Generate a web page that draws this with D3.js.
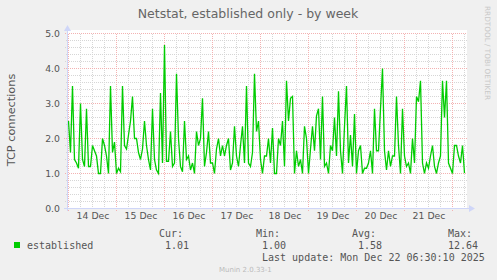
<!DOCTYPE html>
<html>
<head>
<meta charset="utf-8">
<script src="https://cdn.jsdelivr.net/npm/d3@7"></script>
<style>
  html, body { margin: 0; padding: 0; background: #f0f0f0; }
  svg { display: block; }
  text { fill: #555; }
  .mono { font-family: 'DejaVu Sans Mono', monospace; font-size: 10px; }
  .axis text { font-family: 'DejaVu Sans', sans-serif; font-size: 9.3px; fill: #555; }
  .axis path, .axis line { display: none; }
</style>
</head>
<body>
<svg id="chart" width="497" height="280"></svg>
<script>
// hourly samples starting 14 Dec 2025 00:00
const START = new Date(2025, 11, 14, 0, 0);
const established = [
  2.5, 1.6, 3.5, 1.4, 1.3, 1.15, 3.0, 1.4, 1.2, 2.85,
  1.2, 1.2, 1.8, 1.65, 1.5, 1.0, 1.0, 2.0, 1.8, 1.5,
  1.0, 3.5, 1.6, 1.9, 1.0, 1.15, 1.05, 3.5, 1.8, 1.7,
  2.1, 2.5, 3.2, 2.0, 2.0, 1.6, 1.4, 1.7, 2.5, 1.8,
  1.4, 1.1, 2.85, 1.4, 1.1, 1.0, 3.3, 1.3, 4.67, 1.35,
  1.35, 2.2, 1.2, 1.3, 3.85, 2.0, 1.2, 1.05, 2.5, 1.4,
  1.5, 1.1, 1.3, 1.0, 2.2, 1.8, 2.0, 3.15, 1.2, 1.6,
  2.2, 1.3, 1.3, 1.0, 1.7, 2.0, 1.5, 1.8, 1.5, 1.8,
  2.0, 1.1, 1.3, 2.35, 1.5, 1.2, 1.8, 2.35, 1.3, 3.5,
  1.3, 1.2, 1.6, 3.85, 2.2, 2.5, 1.4, 1.0, 1.5, 1.5,
  2.0, 1.3, 2.3, 1.0, 1.0, 2.0, 1.8, 2.5, 1.2, 3.65,
  2.5, 3.15, 3.2, 1.0, 1.65, 1.2, 1.4, 1.0, 2.35, 2.0,
  1.0, 1.7, 2.35, 1.65, 2.65, 2.85, 1.4, 3.2, 1.2, 1.3,
  1.0, 1.8, 1.65, 2.6, 1.5, 3.35, 1.65, 1.0, 2.35, 3.5,
  1.3, 2.1, 1.2, 2.7, 1.0, 1.65, 1.8, 1.0, 1.15, 1.15,
  1.3, 1.65, 1.0, 2.85, 1.65, 1.65, 2.85, 4.0, 1.65, 1.1,
  1.65, 1.2, 1.5, 1.5, 3.2, 1.8, 1.0, 2.85, 1.5, 1.2,
  1.3, 1.0, 2.0, 1.3, 3.2, 3.05, 3.65, 1.3, 1.0, 1.3,
  1.15, 1.5, 1.8, 1.2, 1.0, 1.3, 1.5, 3.65, 2.6, 3.65,
  1.3, 1.15, 1.0, 1.8, 1.8, 1.5, 1.3, 1.8, 1.01
];
const yTicks = [0, 1, 2, 3, 4, 5];
const legendHeads = ['Cur:', 'Min:', 'Avg:', 'Max:'];
const legendValues = ['1.01', '1.00', '1.58', '12.64'];

const data = established.map((v, i) => ({ t: d3.timeHour.offset(START, i), v }));

const svg = d3.select('#chart');

const x = d3.scaleTime()
  .domain([new Date(2025, 11, 13, 23, 30), new Date(2025, 11, 22, 7, 30)])
  .range([67.5, 467.5]);
const y = d3.scaleLinear().domain([0, 5]).range([208.5, 33.5]);
// pixel row / column a grid line falls on
const row = v => Math.floor(v);

// dotted patterns (checkerboard gives 1-on 1-off dots both ways)
const defs = svg.append('defs');
[['dotGrey', '#d6d6d6'], ['dotRed', '#f3b2b2']].forEach(([id, c]) => {
  const p = defs.append('pattern').attr('id', id)
    .attr('patternUnits', 'userSpaceOnUse').attr('width', 2).attr('height', 2);
  p.append('rect').attr('x', 0).attr('y', 0).attr('width', 1).attr('height', 1).attr('fill', c);
  p.append('rect').attr('x', 1).attr('y', 1).attr('width', 1).attr('height', 1).attr('fill', c);
});

// canvas
svg.append('rect').attr('x', 67).attr('y', 30).attr('width', 400).attr('height', 178).attr('fill', '#fff');

const grid = svg.append('g').attr('shape-rendering', 'crispEdges');

// minor grid (every 0.2 / every 6 hours)
const minorY = d3.range(1, 25).filter(i => i % 5 !== 0).map(i => i / 5);
grid.selectAll('.hmin').data(minorY)
  .join('rect')
  .attr('x', 65).attr('width', 402)
  .attr('y', d => row(y(d))).attr('height', 1)
  .attr('fill', 'url(#dotGrey)');
grid.selectAll('.vmin').data(d3.timeHour.every(6).range(x.domain()[0], x.domain()[1]).filter(d => d.getHours() !== 0))
  .join('rect')
  .attr('x', d => row(x(d))).attr('width', 1)
  .attr('y', 33).attr('height', 177)
  .attr('fill', 'url(#dotGrey)');

// major grid
grid.selectAll('.hmaj').data(yTicks.slice(1))
  .join('rect')
  .attr('x', 64).attr('width', 403)
  .attr('y', d => row(y(d))).attr('height', 1)
  .attr('fill', 'url(#dotRed)');
const days = d3.timeDay.range(x.domain()[0], x.domain()[1]);
grid.selectAll('.vmaj').data(days)
  .join('rect')
  .attr('x', d => row(x(d))).attr('width', 1)
  .attr('y', 33).attr('height', 179)
  .attr('fill', 'url(#dotRed)');

// series
const line = d3.line().x(d => x(d.t)).y(d => y(d.v));
svg.append('path').datum(data)
  .attr('d', line)
  .attr('fill', 'none')
  .attr('stroke', '#00cc00')
  .attr('stroke-width', 1.3)
  .attr('stroke-linejoin', 'miter');

// axes lines + arrows
const ax = svg.append('g').attr('shape-rendering', 'crispEdges');
ax.append('line').attr('x1', 67.5).attr('x2', 67.5).attr('y1', 30).attr('y2', 211).attr('stroke', '#cfd6f8');
ax.append('line').attr('x1', 64).attr('x2', 470).attr('y1', 208.5).attr('y2', 208.5).attr('stroke', '#cfd6f8');
svg.append('path').attr('d', 'M64,31 L71,31 L67.5,25 Z').attr('fill', '#cfd6f8');
svg.append('path').attr('d', 'M469,205 L469,212 L475,208.5 Z').attr('fill', '#cfd6f8');

// y tick labels
svg.append('g').attr('class', 'axis')
  .attr('transform', 'translate(67,0)')
  .call(d3.axisLeft(y).tickValues(yTicks).tickFormat(d3.format('.1f')).tickSize(0).tickPadding(7));

// x tick labels at noon
svg.append('g').attr('class', 'axis')
  .attr('transform', 'translate(0,211)')
  .call(d3.axisBottom(x)
    .tickValues(days.map(d => d3.timeHour.offset(d, 12)).filter(d => d < x.domain()[1]))
    .tickFormat(d3.timeFormat('%d %b')).tickSize(0).tickPadding(1));

// title
svg.append('text').attr('x', 248).attr('y', 18).attr('text-anchor', 'middle')
  .style('font-family', "'DejaVu Sans', sans-serif").style('font-size', '12.5px').style('fill', '#666')
  .text('Netstat, established only - by week');

// y label
svg.append('text').attr('transform', 'translate(15,120) rotate(-90)').attr('text-anchor', 'middle')
  .style('font-family', "'DejaVu Sans', sans-serif").style('font-size', '11.3px')
  .text('TCP connections');

// side credit
svg.append('text').attr('transform', 'translate(485,6) rotate(90)')
  .style('font-family', "'DejaVu Sans', sans-serif").style('font-size', '7.3px').style('fill', '#c8c8c8')
  .text('RRDTOOL / TOBI OETIKER');

// legend
svg.append('rect').attr('x', 14).attr('y', 242).attr('width', 6).attr('height', 6).attr('fill', '#00cc00');
svg.append('text').attr('class', 'mono').attr('x', 27).attr('y', 249).text('established');
const colX = [159, 256, 352, 448];
svg.selectAll('.lh').data(legendHeads).join('text')
  .attr('class', 'mono').attr('x', (d, i) => colX[i]).attr('y', 237).text(d => d);
svg.selectAll('.lv').data(legendValues).join('text')
  .attr('class', 'mono').attr('x', (d, i) => colX[i] + (d.length > 4 ? 0 : 6)).attr('y', 249).text(d => d);
svg.append('text').attr('class', 'mono').attr('x', 262).attr('y', 261)
  .text('Last update: Mon Dec 22 06:30:10 2025');
svg.append('text').attr('x', 219).attr('y', 272)
  .style('font-family', "'DejaVu Sans', sans-serif").style('font-size', '7px').style('fill', '#bbb')
  .text('Munin 2.0.33-1');
</script>
</body>
</html>
